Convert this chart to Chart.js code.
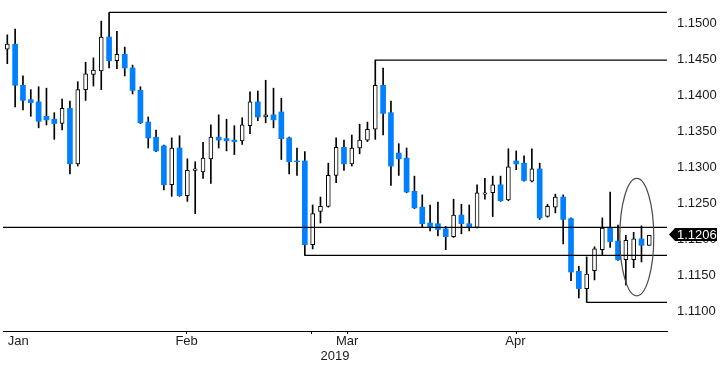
<!DOCTYPE html>
<html><head><meta charset="utf-8">
<script src="https://cdn.jsdelivr.net/npm/chart.js@4.4.0/dist/chart.umd.min.js"></script>
<style>html,body{margin:0;padding:0;background:#fff;}#wrap{width:726px;height:365px;}</style>
</head><body><div id="wrap"><canvas id="c" width="726" height="365"></canvas></div>
<script>
const opens  = [1.1464,1.1471,1.1414,1.1394,1.1391,1.1371,1.1367,1.1361,1.1382,1.1305,
                1.1408,1.1429,1.1434,1.1481,1.1448,1.1457,1.1438,1.1407,1.1363,1.1342,
                1.1330,1.1276,1.1327,1.1261,1.1296,1.1294,1.1312,1.1342,1.1340,1.1338,
                1.1337,1.1358,1.1391,1.1370,1.1373,1.1377,1.1341,1.1309,1.1309,1.1193,
                1.1239,1.1246,1.1289,1.1328,1.1305,1.1327,1.1338,1.1353,1.1414,1.1376,
                1.1320,1.1313,1.1267,1.1245,1.1223,1.1222,1.1215,1.1204,1.1234,1.1222,
                1.1217,1.1263,1.1265,1.1276,1.1255,1.1309,1.1306,1.1281,1.1298,1.1232,
                1.1245,1.1259,1.1229,1.1156,1.1132,1.1157,1.1186,1.1217,1.1198,1.1172,
                1.1172,1.1201,1.1192];
const highs  = [1.1484,1.1492,1.1427,1.1408,1.1412,1.1410,1.1376,1.1395,1.1392,1.1419,
                1.1446,1.1452,1.1503,1.1515,1.1489,1.1467,1.1442,1.1412,1.1370,1.1352,
                1.1331,1.1341,1.1344,1.1312,1.1308,1.1335,1.1359,1.1373,1.1367,1.1358,
                1.1369,1.1405,1.1406,1.1421,1.1410,1.1396,1.1342,1.1327,1.1322,1.1248,
                1.1259,1.1306,1.1341,1.1338,1.1345,1.1360,1.1363,1.1449,1.1438,1.1392,
                1.1333,1.1327,1.1288,1.1262,1.1248,1.1252,1.1218,1.1256,1.1249,1.1248,
                1.1276,1.1285,1.1288,1.1288,1.1326,1.1323,1.1316,1.1326,1.1306,1.1249,
                1.1263,1.1262,1.1230,1.1163,1.1176,1.1190,1.1230,1.1266,1.1220,1.1206,
                1.1210,1.1219,1.1206];
const lows   = [1.1444,1.1384,1.1380,1.1371,1.1355,1.1359,1.1339,1.1352,1.1291,1.1302,
                1.1393,1.1413,1.1408,1.1438,1.1437,1.1427,1.1402,1.1361,1.1327,1.1322,
                1.1269,1.1260,1.1260,1.1253,1.1236,1.1285,1.1278,1.1327,1.1323,1.1318,
                1.1332,1.1347,1.1365,1.1362,1.1355,1.1311,1.1291,1.1289,1.1178,1.1187,
                1.1223,1.1245,1.1279,1.1296,1.1302,1.1319,1.1336,1.1339,1.1345,1.1275,
                1.1289,1.1265,1.1243,1.1217,1.1212,1.1205,1.1186,1.1203,1.1208,1.1212,
                1.1216,1.1256,1.1232,1.1253,1.1254,1.1297,1.1281,1.1280,1.1228,1.1231,
                1.1237,1.1194,1.1143,1.1119,1.1113,1.1144,1.1179,1.1189,1.1171,1.1137,
                1.1161,1.1169,1.1192];
const closes = [1.1471,1.1414,1.1393,1.1390,1.1364,1.1366,1.1361,1.1382,1.1305,1.1408,
                1.1430,1.1435,1.1481,1.1448,1.1457,1.1438,1.1407,1.1362,1.1341,1.1323,
                1.1276,1.1327,1.1261,1.1296,1.1298,1.1313,1.1342,1.1338,1.1337,1.1336,
                1.1359,1.1391,1.1370,1.1373,1.1366,1.1340,1.1308,1.1308,1.1193,1.1236,
                1.1246,1.1289,1.1328,1.1305,1.1327,1.1338,1.1353,1.1414,1.1375,1.1302,
                1.1312,1.1266,1.1244,1.1222,1.1218,1.1214,1.1204,1.1234,1.1222,1.1217,
                1.1265,1.1265,1.1276,1.1254,1.1301,1.1305,1.1282,1.1298,1.1230,1.1246,
                1.1259,1.1228,1.1155,1.1132,1.1152,1.1187,1.1216,1.1197,1.1172,1.1199,
                1.1201,1.1192,1.1206];

const yTicks = [1.1100,1.1150,1.1200,1.1250,1.1300,1.1350,1.1400,1.1450,1.1500];
const monthLabels = ['Jan','Feb','Mar','Apr'];
const monthLabelPos = [1.4,22.9,43.4,64.9];
const minorTickPos = [12.9,32.9,54.0,76.0];
const axisTitle = '2019';

const levelValues = [1.1515,1.1449,1.1217,1.1178,1.1113];
const levelStart  = [13,47,null,38,74];

const lastPrice = 1.1206;
const ellipseX = 80.4, ellipseRx = 2.17, ellipseTop = 1.1285, ellipseBottom = 1.1122;

const xMin = -0.55, xMax = 84.26;
const yMin = 1.10732, yMax = 1.15323;

const up = [], down = [], wicks = [];
for (let i = 0; i < opens.length; i++) {
  wicks.push({x: i, y: [lows[i], highs[i]]});
  const d = {x: i, y: [opens[i], closes[i]]};
  (closes[i] >= opens[i] ? up : down).push(d);
}

const levelSets = levelValues.map((v, k) => ({
  type: 'line',
  data: [{x: levelStart[k] === null ? xMin : levelStart[k], y: v}, {x: xMax, y: v}],
  borderColor: '#000', borderWidth: 1.2, pointRadius: 0, fill: false, order: -1
}));

const overlay = {
  id: 'overlay',
  afterDatasetsDraw(chart) {
    const {ctx, scales: {x, y}} = chart;
    const cx = x.getPixelForValue(ellipseX);
    const rx = x.getPixelForValue(ellipseX + ellipseRx) - cx;
    const t = y.getPixelForValue(ellipseTop), b = y.getPixelForValue(ellipseBottom);
    ctx.save();
    ctx.beginPath();
    ctx.ellipse(cx, (t + b) / 2, rx, (b - t) / 2, 0, 0, Math.PI * 2);
    ctx.strokeStyle = '#4a4a4a'; ctx.lineWidth = 1.2; ctx.stroke();
    ctx.restore();
  },
  afterDraw(chart) {
    const {ctx, chartArea, scales: {y}} = chart;
    const py = Math.round(y.getPixelForValue(lastPrice)) - 0.5;
    const r = chartArea.right;
    ctx.save();
    ctx.beginPath();
    ctx.moveTo(r + 2, py);
    ctx.lineTo(r + 8, py - 6.5);
    ctx.lineTo(r + 50, py - 6.5);
    ctx.lineTo(r + 50, py + 6.5);
    ctx.lineTo(r + 8, py + 6.5);
    ctx.closePath();
    ctx.fillStyle = '#000'; ctx.fill();
    ctx.fillStyle = '#fff';
    ctx.font = '13px "Liberation Sans", Arial, sans-serif';
    ctx.textBaseline = 'middle'; ctx.textAlign = 'left';
    ctx.fillText(lastPrice.toFixed(4), r + 10, py + 0.5);
    ctx.restore();
  }
};

Chart.defaults.font.family = '"Liberation Sans", Arial, sans-serif';

new Chart(document.getElementById('c'), {
  type: 'bar',
  data: {
    datasets: [
      {type: 'bar', data: down, backgroundColor: '#0080ff', borderWidth: 0, barThickness: 5, grouped: false, order: 0},
      {type: 'bar', data: up, backgroundColor: '#fff', borderColor: '#000', borderWidth: 1, borderSkipped: false, barThickness: 4, grouped: false, order: 0},
      {type: 'bar', data: wicks, backgroundColor: '#000', borderWidth: 0, barThickness: 1, grouped: false, order: 1},
      ...levelSets
    ]
  },
  options: {
    responsive: false,
    animation: false,
    layout: {padding: {left: 3, top: 0, right: 0, bottom: 0}},
    plugins: {legend: {display: false}, tooltip: {enabled: false}},
    scales: {
      x: {
        type: 'linear', min: xMin, max: xMax, offset: false, position: 'bottom',
        grid: {drawOnChartArea: false, drawTicks: true, tickLength: 3,
               tickColor: c => (c.tick && minorTickPos.includes(c.tick.value)) ? '#000' : 'rgba(0,0,0,0)'},
        border: {display: true, color: '#000', width: 1},
        ticks: {autoSkip: false, maxRotation: 0, padding: 1, color: '#1a1a1a', font: {size: 13, lineHeight: 1},
                callback: v => { const k = monthLabelPos.indexOf(v); return k >= 0 ? monthLabels[k] : ''; }},
        title: {display: true, text: axisTitle, color: '#1a1a1a', font: {size: 13, lineHeight: 1}, padding: {top: 0, bottom: 2.5}},
        afterBuildTicks: s => { s.ticks = monthLabelPos.concat(minorTickPos).map(v => ({value: v})); },
        afterFit: s => { s.height = 34; s.paddingLeft = 0; s.paddingRight = 0; }
      },
      y: {
        type: 'linear', position: 'right', min: yMin, max: yMax,
        grid: {display: false, drawTicks: false},
        border: {display: false},
        ticks: {padding: 10, color: '#1a1a1a', font: {size: 13}, callback: v => v.toFixed(4)},
        afterBuildTicks: s => { s.ticks = yTicks.map(v => ({value: v})); },
        afterFit: s => { s.width = 59; s.paddingTop = 0; s.paddingBottom = 0; }
      }
    }
  },
  plugins: [overlay]
});
</script>
</body></html>
